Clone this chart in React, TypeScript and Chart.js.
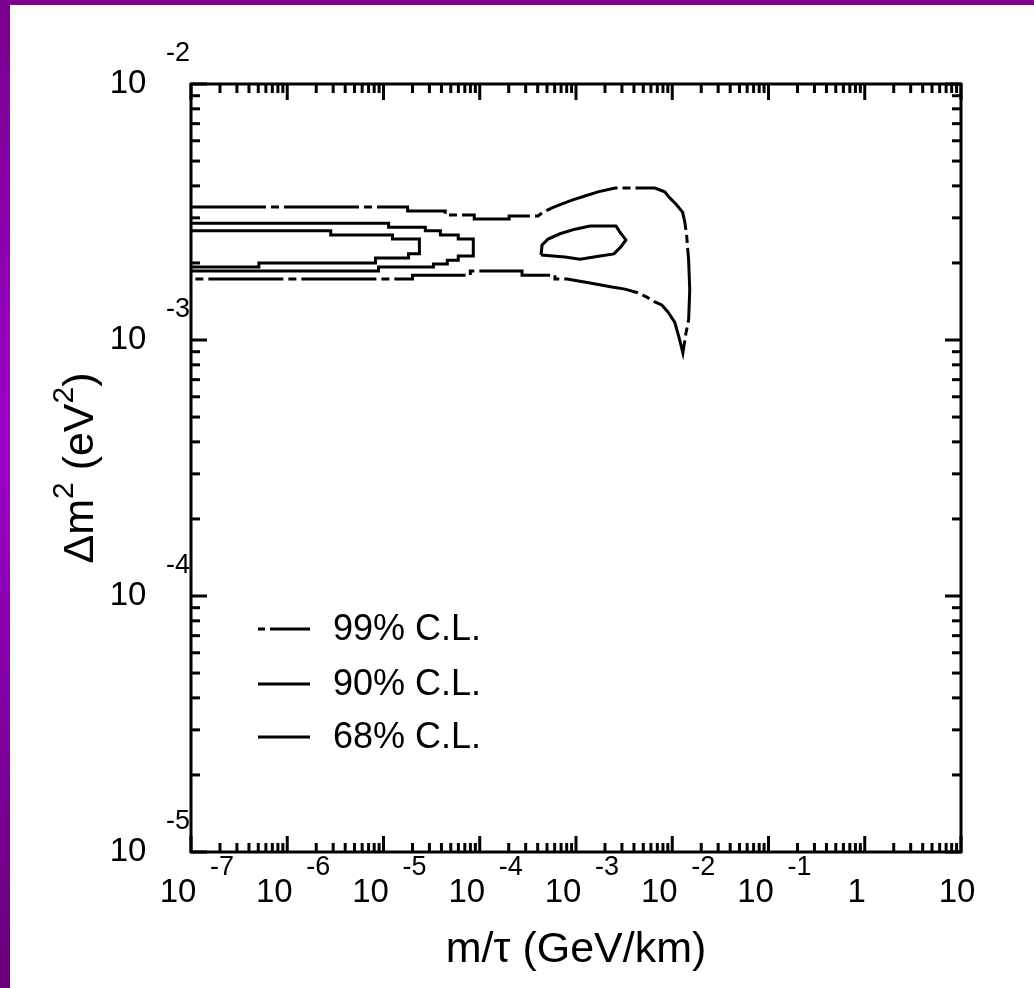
import React, { useEffect, useRef } from "react";
import { Chart, registerables } from "chart.js";

Chart.register(...registerables);

// ---- axis / tick data ----
const xDecades = [-7, -6, -5, -4, -3, -2, -1, 0, 1];
const yDecades = [-5, -4, -3, -2];
const minorSteps = [2, 3, 4, 5, 6, 7, 8, 9];
const legendLabels = ["99% C.L.", "90% C.L.", "68% C.L."];
const xAxisTitle = "m/τ (GeV/km)";
const yTitleParts = [
  { text: "Δm", sup: false },
  { text: "2", sup: true },
  { text: " (eV", sup: false },
  { text: "2", sup: true },
  { text: ")", sup: false },
];

// ---- 99% C.L. contour (dash-dot) ----
const cl99X = [
  1e-7, 1.78e-5, 1.78e-5, 4.38e-5, 4.38e-5, 8.77e-5, 8.77e-5, 2.02e-4, 2.02e-4, 4.04e-4,
  4.55e-4, 5.64e-4, 7.16e-4, 9.1e-4, 1.24e-3, 1.69e-3, 2.54e-3, 6.59e-3, 8.36e-3, 9.42e-3,
  1.09e-2, 1.28e-2, 1.35e-2, 1.41e-2, 1.48e-2, 1.52e-2, 1.48e-2, 1.38e-2, 1.29e-2, 1.17e-2,
  1.06e-2, 8.97e-3, 7.78e-3, 6.59e-3, 5.45e-3, 4.38e-3, 3.22e-3, 2.36e-3, 1.4e-3, 8.07e-4,
  6.05e-4, 6.05e-4, 2.75e-4, 2.75e-4, 7.98e-5, 7.98e-5, 2.0e-5, 2.0e-5, 1e-7,
];
const cl99Y = [
  3.31e-3, 3.31e-3, 3.19e-3, 3.19e-3, 3.08e-3, 3.08e-3, 2.97e-3, 2.97e-3, 3.05e-3, 3.05e-3,
  3.16e-3, 3.28e-3, 3.4e-3, 3.52e-3, 3.65e-3, 3.79e-3, 3.92e-3, 3.92e-3, 3.79e-3, 3.59e-3,
  3.4e-3, 3.16e-3, 2.89e-3, 2.57e-3, 2.05e-3, 1.57e-3, 1.2e-3, 1.05e-3, 8.9e-4, 1.03e-3,
  1.175e-3, 1.29e-3, 1.37e-3, 1.41e-3, 1.47e-3, 1.53e-3, 1.58e-3, 1.61e-3, 1.67e-3, 1.73e-3,
  1.73e-3, 1.79e-3, 1.79e-3, 1.86e-3, 1.86e-3, 1.79e-3, 1.79e-3, 1.73e-3, 1.73e-3,
];

// ---- 90% C.L. contour: left band ----
const cl90X = [
  1e-7, 1.13e-5, 1.13e-5, 2.72e-5, 2.72e-5, 3.9e-5, 3.9e-5, 5.98e-5, 5.98e-5, 8.57e-5,
  8.57e-5, 5.98e-5, 5.98e-5, 4.6e-5, 4.6e-5, 3.3e-5, 3.3e-5, 8.87e-6, 8.87e-6, 1e-7,
];
const cl90Y = [
  2.86e-3, 2.86e-3, 2.76e-3, 2.76e-3, 2.67e-3, 2.67e-3, 2.57e-3, 2.57e-3, 2.48e-3, 2.48e-3,
  2.13e-3, 2.13e-3, 2.05e-3, 2.05e-3, 1.98e-3, 1.98e-3, 1.93e-3, 1.93e-3, 1.86e-3, 1.86e-3,
];

// ---- 90% C.L. contour: island ----
const cl90IslandX = [
  4.33e-4, 4.44e-4, 5.13e-4, 6.82e-4, 9.77e-4, 1.4e-3, 2.6e-3, 2.86e-3, 3.3e-3, 2.92e-3,
  2.48e-3, 1.78e-3, 1.1e-3, 7.69e-4, 4.33e-4,
];
const cl90IslandY = [
  2.15e-3, 2.35e-3, 2.48e-3, 2.6e-3, 2.71e-3, 2.79e-3, 2.79e-3, 2.64e-3, 2.46e-3, 2.31e-3,
  2.17e-3, 2.13e-3, 2.07e-3, 2.11e-3, 2.15e-3,
];

// ---- 68% C.L. contour ----
const cl68X = [
  1e-7, 2.83e-6, 2.83e-6, 1.24e-5, 1.24e-5, 2.36e-5, 2.36e-5, 1.82e-5, 1.82e-5, 8.26e-6,
  8.26e-6, 5.07e-7, 5.07e-7, 1e-7,
];
const cl68Y = [
  2.67e-3, 2.67e-3, 2.57e-3, 2.57e-3, 2.48e-3, 2.48e-3, 2.17e-3, 2.17e-3, 2.09e-3, 2.09e-3,
  2.0e-3, 2.0e-3, 1.93e-3, 1.93e-3,
];

const toPoints = (xs: number[], ys: number[]) => xs.map((x, i) => ({ x, y: ys[i] }));

const FONT = "'Liberation Sans', Arial, Helvetica, sans-serif";
const DASH99 = [75, 5, 8, 5];

const decorPlugin = {
  id: "decor",
  beforeDraw(chart: any) {
    const { ctx, width, height } = chart;
    ctx.save();
    ctx.fillStyle = "#ffffff";
    ctx.fillRect(0, 0, width, height);
    const g = ctx.createLinearGradient(0, 0, 0, height);
    g.addColorStop(0, "#7a008e");
    g.addColorStop(0.45, "#9c00c8");
    g.addColorStop(1, "#68007a");
    ctx.fillStyle = g;
    ctx.fillRect(0, 0, 10, height);
    ctx.fillStyle = "#7f0090";
    ctx.fillRect(0, 0, width, 5);
    ctx.restore();
  },
  afterDatasetsDraw(chart: any) {
    const { ctx, chartArea: a, scales } = chart;
    const xs = scales.x;
    const ys = scales.y;
    ctx.save();
    ctx.strokeStyle = "#000";
    ctx.fillStyle = "#000";
    ctx.lineCap = "butt";
    ctx.setLineDash([]);

    // frame
    ctx.lineWidth = 3;
    ctx.strokeRect(a.left, a.top, a.right - a.left, a.bottom - a.top);

    const seg = (x1: number, y1: number, x2: number, y2: number) => {
      ctx.beginPath();
      ctx.moveTo(x1, y1);
      ctx.lineTo(x2, y2);
      ctx.stroke();
    };

    // x ticks (bottom + top, inward)
    xDecades.forEach((d, i) => {
      const px = xs.getPixelForValue(Math.pow(10, d));
      seg(px, a.bottom, px, a.bottom - 16);
      seg(px, a.top, px, a.top + 16);
      if (i < xDecades.length - 1) {
        minorSteps.forEach((s) => {
          const p = xs.getPixelForValue(s * Math.pow(10, d));
          seg(p, a.bottom, p, a.bottom - 9);
          seg(p, a.top, p, a.top + 9);
        });
      }
    });
    // y ticks (left + right, inward)
    yDecades.forEach((d, i) => {
      const py = ys.getPixelForValue(Math.pow(10, d));
      seg(a.left, py, a.left + 16, py);
      seg(a.right, py, a.right - 16, py);
      if (i < yDecades.length - 1) {
        minorSteps.forEach((s) => {
          const p = ys.getPixelForValue(s * Math.pow(10, d));
          seg(a.left, p, a.left + 9, p);
          seg(a.right, p, a.right - 9, p);
        });
      }
    });

    // tick labels
    ctx.textAlign = "center";
    ctx.textBaseline = "middle";
    xDecades.forEach((d) => {
      const px = xs.getPixelForValue(Math.pow(10, d));
      if (d === 0) {
        ctx.font = `33px ${FONT}`;
        ctx.fillText("1", px - 8, a.bottom + 41);
      } else if (d === 1) {
        ctx.font = `33px ${FONT}`;
        ctx.fillText("10", px - 4, a.bottom + 41);
      } else {
        ctx.font = `33px ${FONT}`;
        ctx.fillText("10", px - 13, a.bottom + 41);
        ctx.font = `27px ${FONT}`;
        ctx.fillText(String(d), px + 31, a.bottom + 16);
      }
    });
    yDecades.forEach((d) => {
      const py = ys.getPixelForValue(Math.pow(10, d));
      ctx.font = `33px ${FONT}`;
      ctx.fillText("10", a.left - 63, py);
      ctx.font = `27px ${FONT}`;
      ctx.fillText(String(d), a.left - 13, py - 30);
    });

    // x title
    ctx.font = `43px ${FONT}`;
    ctx.textBaseline = "alphabetic";
    ctx.fillText(xAxisTitle, (a.left + a.right) / 2, a.bottom + 110);

    // y title (rotated, with superscripts)
    ctx.save();
    ctx.translate(a.left - 98, (a.top + a.bottom) / 2);
    ctx.rotate(-Math.PI / 2);
    ctx.textAlign = "left";
    ctx.textBaseline = "alphabetic";
    const fontFor = (sup: boolean) => (sup ? `30px ${FONT}` : `43px ${FONT}`);
    let total = 0;
    yTitleParts.forEach((p) => {
      ctx.font = fontFor(p.sup);
      total += ctx.measureText(p.text).width;
    });
    let cx = -total / 2;
    yTitleParts.forEach((p) => {
      ctx.font = fontFor(p.sup);
      ctx.fillText(p.text, cx, p.sup ? -20 : 0);
      cx += ctx.measureText(p.text).width;
    });
    ctx.restore();

    // legend
    const legendY = [545, 600, 653];
    const dsets = chart.data.datasets;
    legendLabels.forEach((label, i) => {
      const y = a.top + legendY[i];
      const ds = dsets[i];
      ctx.lineWidth = 3;
      ctx.setLineDash(ds.borderDash && ds.borderDash.length ? [7, 5, 40, 5] : []);
      seg(a.left + 67, y, a.left + 119, y);
      ctx.setLineDash([]);
      ctx.font = `36px ${FONT}`;
      ctx.textAlign = "left";
      ctx.textBaseline = "middle";
      ctx.fillText(label, a.left + 142, y + 1);
    });

    ctx.restore();
  },
};

export default function App() {
  const canvasRef = useRef<HTMLCanvasElement | null>(null);

  useEffect(() => {
    const canvas = canvasRef.current;
    if (!canvas) return;
    const common = {
      showLine: true,
      pointRadius: 0,
      pointHoverRadius: 0,
      borderColor: "#000000",
      backgroundColor: "#000000",
      borderWidth: 3,
      fill: false,
      tension: 0,
    };
    const chart = new Chart(canvas, {
      type: "scatter",
      data: {
        datasets: [
          { ...common, label: legendLabels[0], data: toPoints(cl99X, cl99Y), borderDash: DASH99 },
          { ...common, label: legendLabels[1], data: toPoints(cl90X, cl90Y) },
          { ...common, label: legendLabels[2], data: toPoints(cl68X, cl68Y) },
          { ...common, label: legendLabels[1] + " island", data: toPoints(cl90IslandX, cl90IslandY) },
        ],
      },
      options: {
        responsive: false,
        animation: false,
        events: [],
        devicePixelRatio: 1,
        layout: { padding: { left: 191, right: 73, top: 84, bottom: 136 } },
        plugins: {
          legend: { display: false },
          tooltip: { enabled: false },
          title: { display: false },
        },
        scales: {
          x: {
            type: "logarithmic",
            min: 1e-7,
            max: 10,
            display: false,
          },
          y: {
            type: "logarithmic",
            min: 1e-5,
            max: 1e-2,
            display: false,
          },
        },
      },
      plugins: [decorPlugin],
    } as any);
    return () => chart.destroy();
  }, []);

  return (
    <div style={{ position: "fixed", left: 0, top: 0, width: 1034, height: 988, background: "#fff" }}>
      <canvas ref={canvasRef} width={1034} height={988} style={{ width: 1034, height: 988, display: "block" }} />
    </div>
  );
}
